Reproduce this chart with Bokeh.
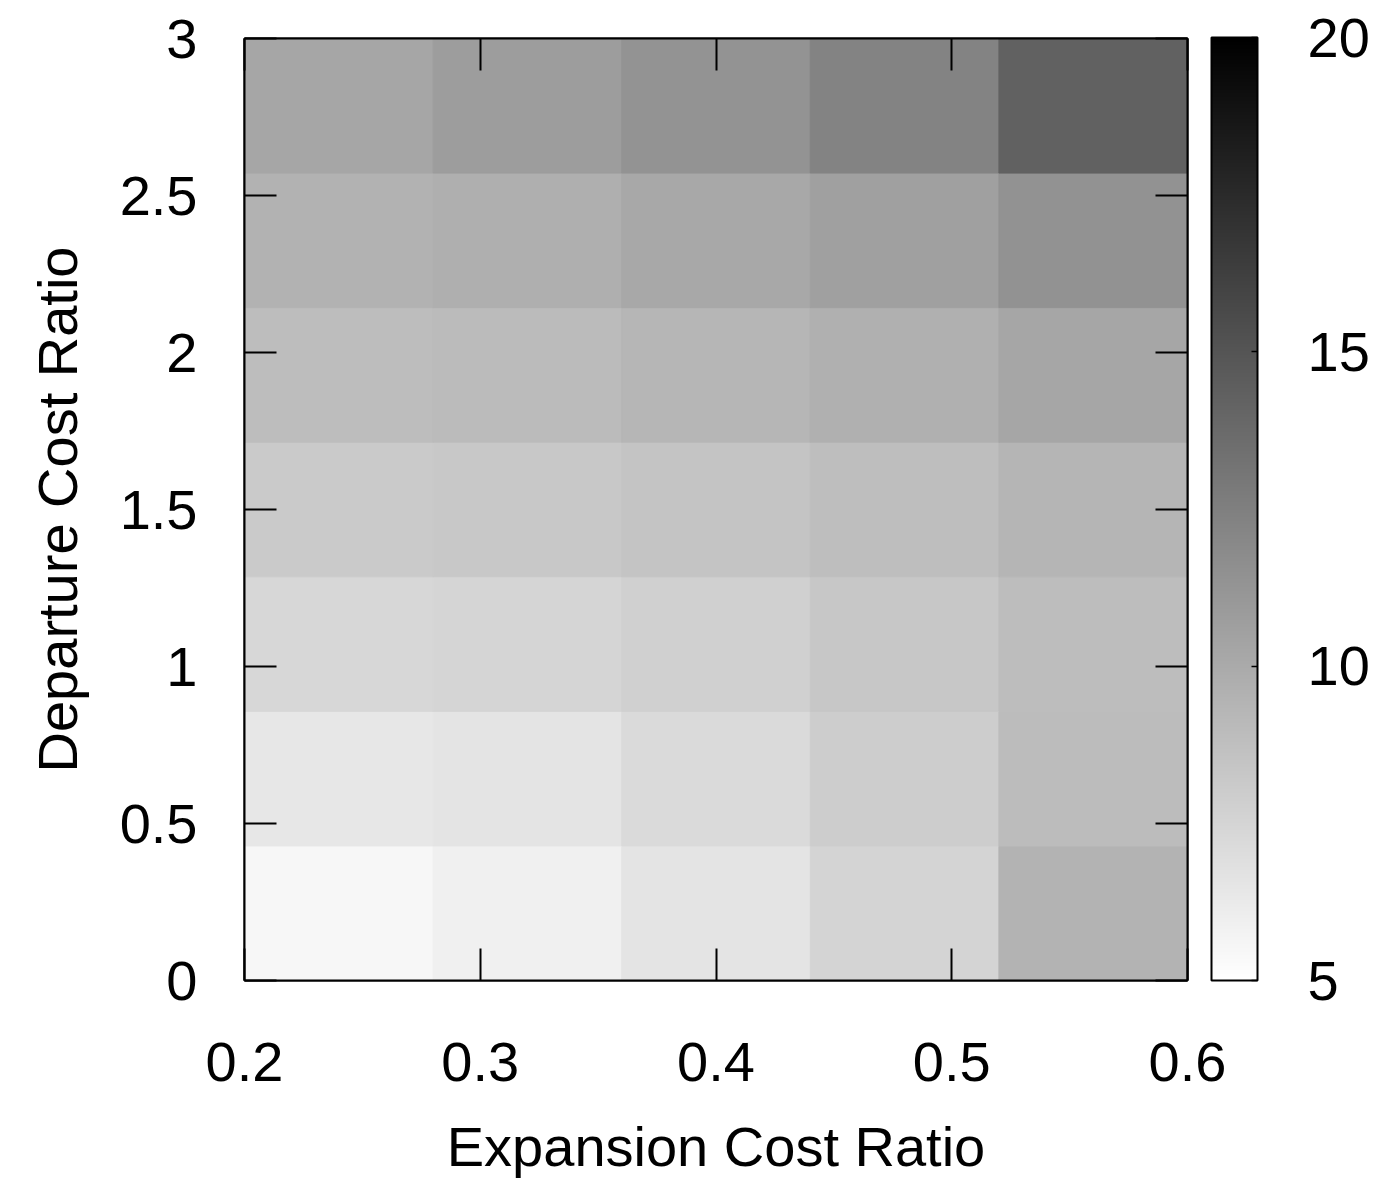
from bokeh.plotting import figure
from bokeh.models import (ColumnDataSource, LinearAxis, FixedTicker, ColorBar,
                          LinearColorMapper, Range1d)
from bokeh.palettes import Greys256
from bokeh.embed import file_html
from bokeh.resources import INLINE

# Cell centres of the grid (expansion ratio across, departure ratio up)
expansion_ratio = [0.24, 0.32, 0.40, 0.48, 0.56]
departure_ratio = [0.2143, 0.6429, 1.0714, 1.5, 1.9286, 2.3571, 2.7857]
cell_width = 0.08
cell_height = 3 / 7

# One row of values per departure ratio, bottom to top
row_0 = [5.47, 5.88, 6.59, 7.53, 9.47]
row_1 = [6.41, 6.59, 7.18, 7.94, 8.94]
row_2 = [7.35, 7.47, 7.76, 8.29, 8.88]
row_3 = [8.12, 8.24, 8.47, 8.82, 9.35]
row_4 = [8.88, 9.00, 9.29, 9.65, 10.24]
row_5 = [9.53, 9.71, 10.12, 10.59, 11.41]
row_6 = [10.24, 10.76, 11.35, 12.29, 14.29]
rows = [row_0, row_1, row_2, row_3, row_4, row_5, row_6]

x_ticks = [0.2, 0.3, 0.4, 0.5, 0.6]
y_ticks = [0, 0.5, 1, 1.5, 2, 2.5, 3]
cb_ticks = [5, 10, 15, 20]
cb_low, cb_high = 5, 20

xs, ys, vals = [], [], []
for yc, row in zip(departure_ratio, rows):
    for xc, v in zip(expansion_ratio, row):
        xs.append(xc)
        ys.append(yc)
        vals.append(v)
source = ColumnDataSource(dict(x=xs, y=ys, v=vals))

FONT = "Liberation Sans"
FS = "56px"

mapper = LinearColorMapper(palette=list(reversed(Greys256)), low=cb_low, high=cb_high)

p = figure(width=1373, height=1180, output_backend="svg", toolbar_location=None,
           x_range=Range1d(0.2, 0.6), y_range=Range1d(0, 3),
           x_axis_label="Expansion Cost Ratio", y_axis_label="Departure Cost Ratio",
           min_border_left=244, min_border_right=186, min_border_top=38,
           min_border_bottom=199)
p.grid.visible = False
p.background_fill_color = "white"
p.outline_line_color = "black"
p.outline_line_width = 2

p.rect(x="x", y="y", width=cell_width, height=cell_height, source=source,
       fill_color={"field": "v", "transform": mapper},
       line_color={"field": "v", "transform": mapper}, line_width=1)

def style_axis(ax, ticks, show_labels):
    ax.ticker = FixedTicker(ticks=ticks)
    ax.minor_tick_line_color = None
    ax.major_tick_in = 32
    ax.major_tick_out = 0
    ax.major_tick_line_color = "black"
    ax.major_tick_line_width = 2
    ax.axis_line_color = "black"
    ax.axis_line_width = 2
    ax.major_label_text_font = FONT
    ax.major_label_text_color = "black"
    if show_labels:
        ax.major_label_text_font_size = FS
    else:
        ax.major_label_overrides = {t: "" for t in ticks}
        ax.major_label_text_font_size = "0px"
        ax.major_label_standoff = 0
    ax.axis_label_text_font = FONT
    ax.axis_label_text_font_size = FS
    ax.axis_label_text_font_style = "normal"
    ax.axis_label_text_color = "black"

style_axis(p.xaxis[0], x_ticks, True)
style_axis(p.yaxis[0], y_ticks, True)
p.xaxis[0].major_label_standoff = 62
p.xaxis[0].axis_label_standoff = 31
p.yaxis[0].major_label_standoff = 47
p.yaxis[0].axis_label_standoff = 28

top_axis = LinearAxis()
right_axis = LinearAxis()
style_axis(top_axis, x_ticks, False)
style_axis(right_axis, y_ticks, False)
p.add_layout(top_axis, "above")
p.add_layout(right_axis, "right")

color_bar = ColorBar(color_mapper=mapper, ticker=FixedTicker(ticks=cb_ticks),
                     width=46, height=943, padding=0, margin=0,
                     location=(24, 0),
                     major_label_text_font=FONT, major_label_text_font_size=FS,
                     major_label_text_color="black",
                     label_standoff=50,
                     major_tick_in=6, major_tick_out=0,
                     major_tick_line_color="black", major_tick_line_width=1.5,
                     minor_tick_line_color=None,
                     bar_line_color="black", bar_line_width=2,
                     border_line_color=None, background_fill_alpha=0)
p.add_layout(color_bar, "right")

open("out.html", "w").write(file_html(p, INLINE))
